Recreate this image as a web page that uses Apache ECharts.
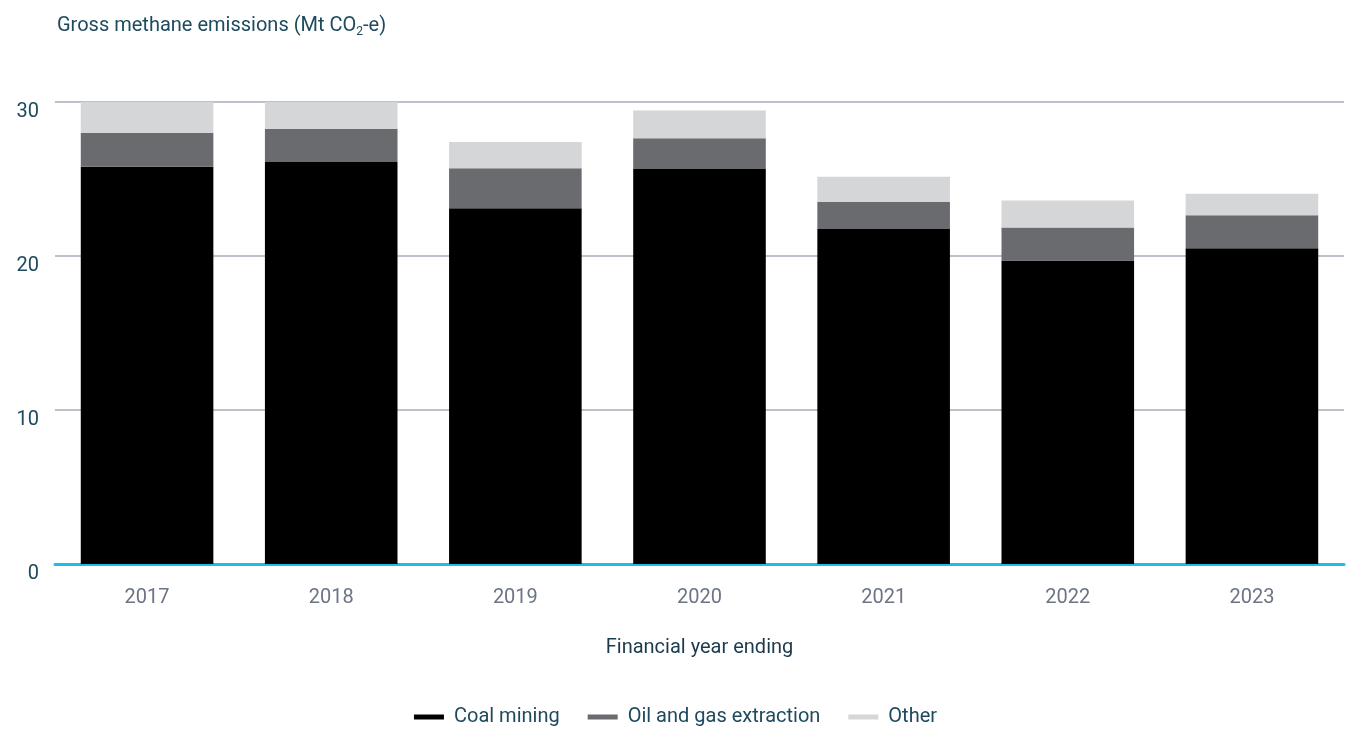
<!DOCTYPE html>
<html>
<head>
<meta charset="utf-8">
<script src="https://cdn.jsdelivr.net/npm/echarts@6/dist/echarts.min.js"></script>
<style>
  html, body { margin: 0; padding: 0; background: #ffffff; }
  #chart { width: 1351px; height: 729px; }
</style>
</head>
<body>
<div id="chart"></div>
<script>
// Financial years and gross methane emissions by source (Mt CO2-e)
const years = ['2017', '2018', '2019', '2020', '2021', '2022', '2023'];
const coalMining = [25.8, 26.1, 23.1, 25.65, 21.75, 19.7, 20.5];
const oilAndGas = [2.2, 2.15, 2.6, 2.0, 1.75, 2.15, 2.15];
const other = [2.0, 1.9, 1.7, 1.8, 1.65, 1.75, 1.4];
const yTicks = [0, 10, 20, 30];

const FONT = '"Liberation Sans Narrow", "Roboto", "Liberation Sans", sans-serif';

const chart = echarts.init(document.getElementById('chart'), null, { renderer: 'canvas' });

const seriesDefs = [
  { name: 'Coal mining', data: coalMining, color: '#000000' },
  { name: 'Oil and gas extraction', data: oilAndGas, color: '#6a6b6f' },
  { name: 'Other', data: other, color: '#d5d6d8' }
];

chart.setOption({
  animation: false,
  backgroundColor: '#ffffff',
  title: {
    text: 'Gross methane emissions (Mt CO{sub|2}-e)',
    left: 52,
    top: 9,
    textStyle: {
      fontFamily: FONT,
      fontSize: 20,
      fontWeight: 'normal',
      color: '#1e4a5d',
      rich: {
        sub: { fontFamily: FONT, fontSize: 12, color: '#1e4a5d', verticalAlign: 'bottom', padding: [12, 0, 0, 0] }
      }
    }
  },
  legend: {
    bottom: -3,
    left: 'center',
    itemWidth: 30,
    itemHeight: 5,
    itemGap: 28,
    icon: 'rect',
    textStyle: { fontFamily: FONT, fontSize: 20, color: '#1e4a5d', padding: [0, 0, 0, 5] },
    data: seriesDefs.map(s => s.name)
  },
  grid: { left: 55, right: 7, top: 102, bottom: 165 },
  xAxis: {
    type: 'category',
    data: years,
    name: 'Financial year ending',
    nameLocation: 'middle',
    nameGap: 74,
    nameTextStyle: { fontFamily: FONT, fontSize: 20, color: '#1c3a4d' },
    axisLine: { show: true, lineStyle: { color: '#1bbfe6', width: 3 } },
    axisTick: { show: false },
    axisLabel: { fontFamily: FONT, fontSize: 20, color: '#6b7585', margin: 24 }
  },
  yAxis: {
    type: 'value',
    min: yTicks[0],
    max: yTicks[yTicks.length - 1],
    interval: 10,
    axisLine: { show: false },
    axisTick: { show: false },
    axisLabel: { fontFamily: FONT, fontSize: 20, color: '#1e4a5d', margin: 16, align: 'right', verticalAlign: 'top' },
    splitLine: { lineStyle: { color: '#a9adb8', width: 1.5 } }
  },
  series: seriesDefs.map(s => ({
    name: s.name,
    type: 'bar',
    stack: 'total',
    data: s.data,
    barWidth: '72%',
    itemStyle: { color: s.color },
    emphasis: { disabled: true }
  }))
});
</script>
</body>
</html>
